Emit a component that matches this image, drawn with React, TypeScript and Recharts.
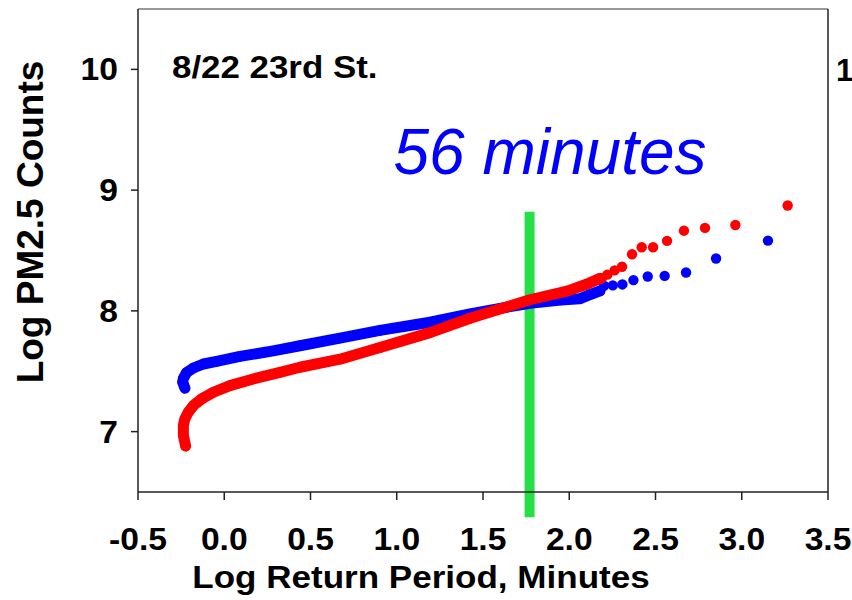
import { ScatterChart, Scatter, XAxis, YAxis, ReferenceLine } from "recharts";

const xTicks = [-0.5, 0, 0.5, 1, 1.5, 2, 2.5, 3, 3.5];
const yTicks = [7, 8, 9, 10];

// blue series: the dense part of the curve, then the loose points of the upper tail
const blueBand = [
  { x: -0.228, y: 7.36 },
  { x: -0.241, y: 7.41 },
  { x: -0.237, y: 7.44 },
  { x: -0.218, y: 7.49 },
  { x: -0.179, y: 7.527 },
  { x: -0.121, y: 7.56 },
  { x: -0.044, y: 7.582 },
  { x: 0.091, y: 7.623 },
  { x: 0.284, y: 7.669 },
  { x: 0.439, y: 7.711 },
  { x: 0.671, y: 7.774 },
  { x: 0.903, y: 7.838 },
  { x: 1.193, y: 7.906 },
  { x: 1.425, y: 7.975 },
  { x: 1.599, y: 8.021 },
  { x: 1.772, y: 8.063 },
  { x: 1.95, y: 8.09 },
  { x: 2.06, y: 8.1 },
  { x: 2.13, y: 8.14 },
  { x: 2.178, y: 8.165 },
];
const blueTail = [
  { x: 2.201, y: 8.208 },
  { x: 2.252, y: 8.211 },
  { x: 2.308, y: 8.219 },
  { x: 2.372, y: 8.255 },
  { x: 2.455, y: 8.285 },
  { x: 2.553, y: 8.29 },
  { x: 2.677, y: 8.318 },
  { x: 2.851, y: 8.434 },
  { x: 3.152, y: 8.582 },
];

// red series
const redBand = [
  { x: -0.224, y: 6.881 },
  { x: -0.237, y: 6.969 },
  { x: -0.237, y: 7.051 },
  { x: -0.228, y: 7.106 },
  { x: -0.208, y: 7.162 },
  { x: -0.179, y: 7.216 },
  { x: -0.131, y: 7.271 },
  { x: -0.063, y: 7.326 },
  { x: 0.033, y: 7.381 },
  { x: 0.168, y: 7.436 },
  { x: 0.323, y: 7.491 },
  { x: 0.439, y: 7.533 },
  { x: 0.671, y: 7.6 },
  { x: 0.903, y: 7.697 },
  { x: 1.193, y: 7.82 },
  { x: 1.425, y: 7.939 },
  { x: 1.541, y: 7.99 },
  { x: 1.772, y: 8.092 },
  { x: 1.987, y: 8.164 },
  { x: 2.1, y: 8.22 },
  { x: 2.178, y: 8.269 },
];
const redTail = [
  { x: 2.188, y: 8.27 },
  { x: 2.221, y: 8.3 },
  { x: 2.263, y: 8.335 },
  { x: 2.306, y: 8.365 },
  { x: 2.364, y: 8.469 },
  { x: 2.42, y: 8.527 },
  { x: 2.486, y: 8.527 },
  { x: 2.567, y: 8.58 },
  { x: 2.665, y: 8.664 },
  { x: 2.787, y: 8.687 },
  { x: 2.963, y: 8.711 },
  { x: 3.266, y: 8.873 },
];

// green marker at the 56 minute return period
const markerX = 1.77;
const markerTop = 8.82;
const markerBottom = 6.29;

const FONT = "'Liberation Sans', Arial, sans-serif";

const XTick = (props: any) => {
  const { x, y, payload } = props;
  return (
    <g transform={`translate(${x},${y}) scale(1.085,1)`}>
      <text x={0} y={0} dy="0.71em" textAnchor="middle" fontFamily={FONT} fontWeight="bold" fontSize={31} fill="#000">
        {Number(payload.value).toFixed(1)}
      </text>
    </g>
  );
};

const YTick = (props: any) => {
  const { x, y, payload } = props;
  return (
    <g transform={`translate(${x},${y}) scale(1.085,1)`}>
      <text x={0} y={0} dy="0.355em" textAnchor="end" fontFamily={FONT} fontWeight="bold" fontSize={31} fill="#000">
        {payload.value}
      </text>
    </g>
  );
};

// round dot a bit bigger than the default symbol
const Dot = (props: any) => <circle cx={props.cx} cy={props.cy} r={5.2} fill={props.fill} />;

export default function App() {
  const blue = "#0000ff";
  const red = "#ff0000";
  return (
    <div style={{ position: "absolute", left: 0, top: 0, width: 852, height: 600, background: "#fff", fontFamily: FONT }}>
      <ScatterChart width={852} height={600} margin={{ top: 9, right: 24, bottom: 8, left: 0 }}>
        <XAxis
          type="number"
          dataKey="x"
          domain={[-0.5, 3.5]}
          ticks={xTicks}
          allowDataOverflow
          height={100}
          tickSize={8}
          tickMargin={28}
          tick={<XTick />}
          axisLine={{ stroke: "#222", strokeWidth: 1.5 }}
          tickLine={{ stroke: "#222", strokeWidth: 1.5 }}
        />
        <YAxis
          type="number"
          dataKey="y"
          domain={[6.5, 10.5]}
          ticks={yTicks}
          allowDataOverflow
          width={138}
          tickSize={7}
          tickMargin={13}
          tick={<YTick />}
          axisLine={{ stroke: "#222", strokeWidth: 1.5 }}
          tickLine={{ stroke: "#222", strokeWidth: 1.5 }}
        />
        <ReferenceLine y={10.5} stroke="#333" strokeWidth={1} />
        <ReferenceLine x={3.5} stroke="#222" strokeWidth={1.5} />
        <Scatter
          data={blueBand}
          fill={blue}
          shape={<Dot />}
          line={{ stroke: blue, strokeWidth: 11, strokeLinecap: "round", strokeLinejoin: "round" }}
          isAnimationActive={false}
        />
        <Scatter data={blueTail} fill={blue} shape={<Dot />} isAnimationActive={false} />
        <Scatter
          data={redBand}
          fill={red}
          shape={<Dot />}
          line={{ stroke: red, strokeWidth: 11, strokeLinecap: "round", strokeLinejoin: "round" }}
          isAnimationActive={false}
        />
        <Scatter data={redTail} fill={red} shape={<Dot />} isAnimationActive={false} />
        <ReferenceLine
          segment={[
            { x: markerX, y: markerTop },
            { x: markerX, y: markerBottom },
          ]}
          stroke="#26de48"
          strokeWidth={10}
          ifOverflow="visible"
        />
      </ScatterChart>

      {/* axis titles and notes */}
      <div
        style={{
          position: "absolute",
          left: 30,
          top: 222,
          transform: "translate(-50%,-50%) rotate(-90deg)",
          fontSize: 37,
          lineHeight: "37px",
          fontWeight: "bold",
          whiteSpace: "nowrap",
        }}
      >
        Log PM2.5 Counts
      </div>
      <div
        style={{
          position: "absolute",
          left: 421,
          top: 562,
          transform: "translateX(-50%) scaleX(1.13)",
          fontSize: 31,
          lineHeight: "31px",
          fontWeight: "bold",
          whiteSpace: "nowrap",
        }}
      >
        Log Return Period, Minutes
      </div>
      <div
        style={{
          position: "absolute",
          left: 172,
          top: 51,
          transform: "scaleX(1.09)",
          transformOrigin: "left",
          fontSize: 32,
          lineHeight: "32px",
          fontWeight: "bold",
          whiteSpace: "nowrap",
        }}
      >
        8/22 23rd St.
      </div>
      <div
        style={{
          position: "absolute",
          left: 550,
          top: 120,
          transform: "translateX(-50%)",
          fontSize: 64,
          lineHeight: "64px",
          fontStyle: "italic",
          color: "#0000ff",
          whiteSpace: "nowrap",
        }}
      >
        56 minutes
      </div>
      <div
        style={{
          position: "absolute",
          left: 836,
          top: 55,
          fontSize: 31,
          lineHeight: "31px",
          fontWeight: "bold",
          whiteSpace: "nowrap",
        }}
      >
        1
      </div>
    </div>
  );
}
